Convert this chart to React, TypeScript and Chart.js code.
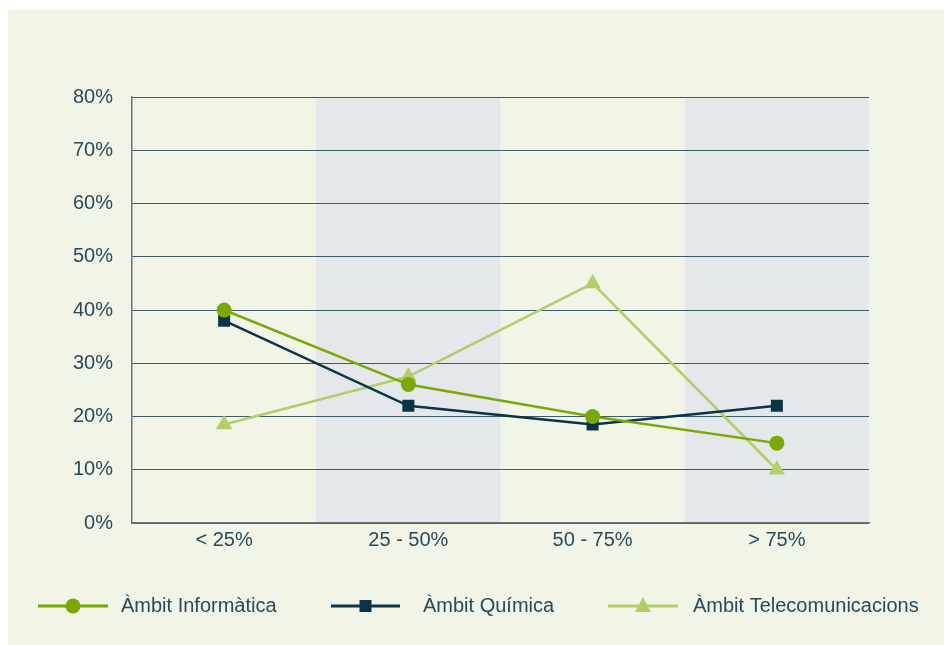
import React, { useEffect, useRef } from "react";
import { Chart, registerables } from "chart.js";

Chart.register(...registerables);

const categories = ["< 25%", "25 - 50%", "50 - 75%", "> 75%"];
const informatica = [40, 26, 20, 15];
const quimica = [38, 22, 18.5, 22];
const telecom = [18.5, 27.5, 45, 10];
const seriesNames = ["Àmbit Informàtica", "Àmbit Química", "Àmbit Telecomunicacions"];
const yTicks = [0, 10, 20, 30, 40, 50, 60, 70, 80];

const C_INF = "#7aa805";
const C_QUI = "#0c3447";
const C_TEL = "#b2ce6b";
const TEXT = "#2a4a58";
const FONT = "'Liberation Sans', Arial, sans-serif";

const bandPlugin = {
  id: "bands",
  beforeDraw(chart: any) {
    const { ctx, chartArea, scales } = chart;
    const x = scales.x;
    ctx.save();
    ctx.fillStyle = "#e4e8eb";
    for (let i = 0; i < categories.length; i++) {
      if (i % 2 === 1) {
        const c = x.getPixelForValue(i);
        const half = (chartArea.right - chartArea.left) / categories.length / 2;
        ctx.fillRect(c - half, chartArea.top, half * 2, chartArea.bottom - chartArea.top);
      }
    }
    ctx.restore();
  },
};

const legendPlugin = {
  id: "customLegend",
  afterDraw(chart: any) {
    const { ctx } = chart;
    const y = 596;
    const items = [
      { x0: 30, x1: 100, text: 113, color: C_INF, shape: "circle" },
      { x0: 323, x1: 392, text: 415, color: C_QUI, shape: "rect" },
      { x0: 600, x1: 670, text: 685, color: C_TEL, shape: "triangle" },
    ];
    ctx.save();
    items.forEach((it, i) => {
      ctx.strokeStyle = it.color;
      ctx.lineWidth = 3;
      ctx.beginPath();
      ctx.moveTo(it.x0, y);
      ctx.lineTo(it.x1, y);
      ctx.stroke();
      const cx = (it.x0 + it.x1) / 2;
      ctx.fillStyle = it.color;
      ctx.beginPath();
      if (it.shape === "circle") {
        ctx.arc(cx, y, 7.5, 0, Math.PI * 2);
      } else if (it.shape === "rect") {
        ctx.rect(cx - 6, y - 6, 12, 12);
      } else {
        ctx.moveTo(cx, y - 9);
        ctx.lineTo(cx + 8, y + 6);
        ctx.lineTo(cx - 8, y + 6);
        ctx.closePath();
      }
      ctx.fill();
      ctx.fillStyle = TEXT;
      ctx.font = `20px ${FONT}`;
      ctx.textBaseline = "middle";
      ctx.textAlign = "left";
      ctx.fillText(seriesNames[i], it.text, y);
    });
    ctx.restore();
  },
};

export default function App() {
  const ref = useRef<HTMLCanvasElement>(null);
  useEffect(() => {
    if (!ref.current) return;
    const chart = new Chart(ref.current, {
      type: "line",
      data: {
        labels: categories,
        datasets: [
          {
            label: seriesNames[0],
            data: informatica,
            borderColor: C_INF,
            backgroundColor: C_INF,
            borderWidth: 2.5,
            pointStyle: "circle",
            pointRadius: 7.5,
            pointBorderWidth: 0,
            tension: 0,
          },
          {
            label: seriesNames[1],
            data: quimica,
            borderColor: C_QUI,
            backgroundColor: C_QUI,
            borderWidth: 2.5,
            pointStyle: "rect",
            pointRadius: 8.5,
            pointBorderWidth: 0,
            tension: 0,
          },
          {
            label: seriesNames[2],
            data: telecom,
            borderColor: C_TEL,
            backgroundColor: C_TEL,
            borderWidth: 2.5,
            pointStyle: "triangle",
            pointRadius: 9.5,
            pointBorderWidth: 0,
            tension: 0,
          },
        ],
      },
      options: {
        animation: false,
        responsive: false,
        devicePixelRatio: 1,
        layout: { padding: { top: 87, right: 75, bottom: 82, left: 0 } },
        plugins: { legend: { display: false }, tooltip: { enabled: false } },
        scales: {
          x: {
            offset: true,
            grid: { display: false, drawTicks: false },
            border: { display: true, color: "#5f7884", width: 1.5 },
            ticks: { color: TEXT, font: { family: FONT, size: 20 }, padding: 5, maxRotation: 0 },
            afterFit(scale: any) {
              scale.height = 40;
            },
          },
          y: {
            min: 0,
            max: 80,
            afterBuildTicks(scale: any) {
              scale.ticks = yTicks.map((v) => ({ value: v }));
            },
            grid: { color: "#3d5b68", lineWidth: 1, drawTicks: false },
            border: { display: true, color: "#5f7884", width: 1.5 },
            ticks: {
              color: TEXT,
              font: { family: FONT, size: 20 },
              padding: 19,
              callback: (v: any) => `${v}%`,
            },
            afterFit(scale: any) {
              scale.width = 124;
            },
          },
        },
      },
      plugins: [bandPlugin, legendPlugin],
    });
    return () => chart.destroy();
  }, []);
  return (
    <div
      style={{
        position: "fixed",
        left: 8,
        top: 10,
        width: 936,
        height: 635,
        background: "#f1f5e7",
      }}
    >
      <canvas ref={ref} width={936} height={635} style={{ display: "block" }} />
    </div>
  );
}
